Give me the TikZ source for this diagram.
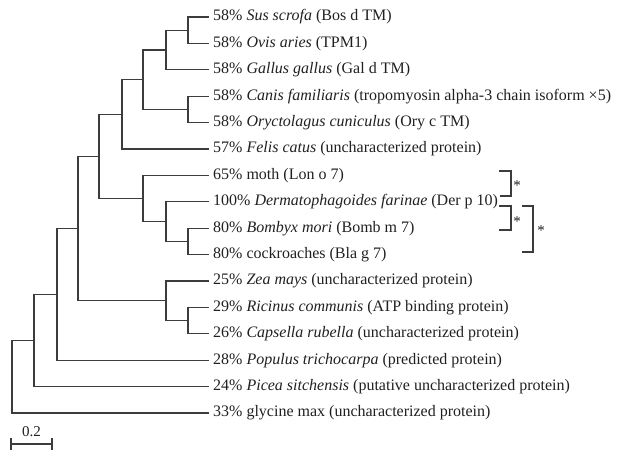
\documentclass[tikz,border=0pt]{standalone}
\usepackage{fontspec}
\setmainfont{Liberation Serif}
\definecolor{ink}{RGB}{35,31,32}
\definecolor{branch}{RGB}{60,60,60}
\begin{document}
\begin{tikzpicture}[x=1pt,y=-1pt]
\tikzset{
  br/.style={draw=branch, line width=1.2pt, line cap=rect},
  lbl/.style={anchor=west, inner sep=0pt, xshift=5pt, text=ink, font=\fontsize{16}{18}\selectfont},
  ast/.style={inner sep=0pt, text=ink, font=\fontsize{15}{16}\selectfont},
  brk/.style={draw=branch, line width=1.1pt}
}
\useasboundingbox (0,0) rectangle (631,461);
% leaves
\coordinate (L1) at (208,17);
\coordinate (L2) at (208,43.4);
\coordinate (L3) at (208,69.8);
\coordinate (L4) at (208,96.2);
\coordinate (L5) at (208,122.6);
\coordinate (L6) at (208,149);
\coordinate (L7) at (208,175.4);
\coordinate (L8) at (208,201.8);
\coordinate (L9) at (208,228.2);
\coordinate (L10) at (208,254.6);
\coordinate (L11) at (208,281);
\coordinate (L12) at (208,307.4);
\coordinate (L13) at (208,333.8);
\coordinate (L14) at (208,360.2);
\coordinate (L15) at (208,386.6);
\coordinate (L16) at (208,413);
% internal nodes
\coordinate (n12) at (188,30.2);
\coordinate (n123) at (166,50);
\coordinate (n45) at (188,109.4);
\coordinate (n12345) at (143,79.7);
\coordinate (n6) at (122,114.35);
\coordinate (n910) at (188,241.4);
\coordinate (n8910) at (166,221.6);
\coordinate (n7) at (143,198.5);
\coordinate (nA) at (99,156.4);
\coordinate (n1213) at (188,320.6);
\coordinate (n11) at (166,300.8);
\coordinate (nAP) at (78,228.6);
\coordinate (nPop) at (57,294.4);
\coordinate (nPic) at (34,340.5);
\coordinate (root) at (12,376.75);
% branches
\draw[br] (n12) |- (L1); \draw[br] (n12) |- (L2);
\draw[br] (n123) |- (n12); \draw[br] (n123) |- (L3);
\draw[br] (n45) |- (L4); \draw[br] (n45) |- (L5);
\draw[br] (n12345) |- (n123); \draw[br] (n12345) |- (n45);
\draw[br] (n6) |- (n12345); \draw[br] (n6) |- (L6);
\draw[br] (n910) |- (L9); \draw[br] (n910) |- (L10);
\draw[br] (n8910) |- (L8); \draw[br] (n8910) |- (n910);
\draw[br] (n7) |- (L7); \draw[br] (n7) |- (n8910);
\draw[br] (nA) |- (n6); \draw[br] (nA) |- (n7);
\draw[br] (n1213) |- (L12); \draw[br] (n1213) |- (L13);
\draw[br] (n11) |- (L11); \draw[br] (n11) |- (n1213);
\draw[br] (nAP) |- (nA); \draw[br] (nAP) |- (n11);
\draw[br] (nPop) |- (nAP); \draw[br] (nPop) |- (L14);
\draw[br] (nPic) |- (nPop); \draw[br] (nPic) |- (L15);
\draw[br] (root) |- (nPic); \draw[br] (root) |- (L16);
% labels
\node[lbl] (t1) at (L1) {58\% \textit{Sus scrofa} (Bos d TM)};
\node[lbl] (t2) at (L2) {58\% \textit{Ovis aries} (TPM1)};
\node[lbl] (t3) at (L3) {58\% \textit{Gallus gallus} (Gal d TM)};
\node[lbl] (t4) at (L4) {58\% \textit{Canis familiaris} (tropomyosin alpha-3 chain isoform ×5)};
\node[lbl] (t5) at (L5) {58\% \textit{Oryctolagus cuniculus} (Ory c TM)};
\node[lbl] (t6) at (L6) {57\% \textit{Felis catus} (uncharacterized protein)};
\node[lbl] (t7) at (L7) {65\% moth (Lon o 7)};
\node[lbl] (t8) at (L8) {100\% \textit{Dermatophagoides farinae} (Der p 10)};
\node[lbl] (t9) at (L9) {80\% \textit{Bombyx mori} (Bomb m 7)};
\node[lbl] (t10) at (L10) {80\% cockroaches (Bla g 7)};
\node[lbl] (t11) at (L11) {25\% \textit{Zea mays} (uncharacterized protein)};
\node[lbl] (t12) at (L12) {29\% \textit{Ricinus communis} (ATP binding protein)};
\node[lbl] (t13) at (L13) {26\% \textit{Capsella rubella} (uncharacterized protein)};
\node[lbl] (t14) at (L14) {28\% \textit{Populus trichocarpa} (predicted protein)};
\node[lbl] (t15) at (L15) {24\% \textit{Picea sitchensis} (putative uncharacterized protein)};
\node[lbl] (t16) at (L16) {33\% glycine max (uncharacterized protein)};
% significance brackets
\coordinate (b1a) at (499,171); \coordinate (b1b) at (511,171);
\coordinate (b1c) at (511,196); \coordinate (b1d) at (500,196);
\draw[brk] (b1a) -- (b1b) -- (b1c) -- (b1d);
\node[ast] (s1) at (517,186) {*};
\coordinate (b2a) at (499,206); \coordinate (b2b) at (511,206);
\coordinate (b2c) at (511,230); \coordinate (b2d) at (499,230);
\draw[brk] (b2a) -- (b2b) -- (b2c) -- (b2d);
\node[ast] (s2) at (517,222) {*};
\coordinate (b3a) at (522,206); \coordinate (b3b) at (533,206);
\coordinate (b3c) at (533,252); \coordinate (b3d) at (522,252);
\draw[brk] (b3a) -- (b3b) -- (b3c) -- (b3d);
\node[ast] (s3) at (541,231) {*};
% scale bar
\coordinate (sa) at (11,444); \coordinate (sb) at (52,444);
\draw[brk] (sa) -- (sb);
\draw[brk] ([yshift=-6pt]sa) -- ([yshift=6pt]sa);
\draw[brk] ([yshift=-6pt]sb) -- ([yshift=6pt]sb);
\node[inner sep=0pt, text=ink, font=\fontsize{15}{16}\selectfont] (sl) at (31.5,432) {0.2};
\end{tikzpicture}
\end{document}
